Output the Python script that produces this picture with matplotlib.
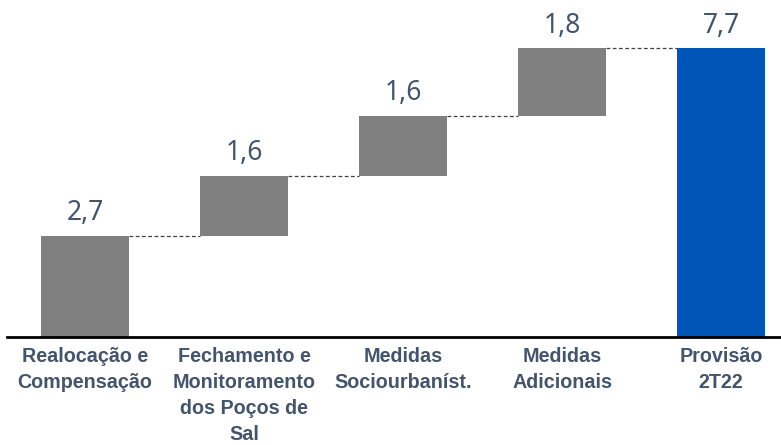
import matplotlib
matplotlib.use('Agg')
import matplotlib.pyplot as plt

plt.rcParams['font.family'] = ['Noto Sans', 'DejaVu Sans']

# dados (R$ bilhões)
categorias = ['Realocação e\nCompensação', 'Fechamento e\nMonitoramento\ndos Poços de\nSal',
              'Medidas\nSociourbaníst.', 'Medidas\nAdicionais', 'Provisão\n2T22']
valores = [2.7, 1.6, 1.6, 1.8, 7.7]
rotulos = ['2,7', '1,6', '1,6', '1,8', '7,7']

cinza = '#808080'
azul = '#0056B8'
texto = '#44546A'

fig = plt.figure(figsize=(7.81, 4.45), dpi=100)
ax = fig.add_axes([7 / 781, 1 - 337 / 445, 1 - 7 / 781, 337 / 445])

x = list(range(len(valores)))
largura = 0.553
bases = []
acum = 0
for v in valores[:-1]:
    bases.append(acum)
    acum += v
bases.append(0)
cores = [cinza] * (len(valores) - 1) + [azul]

ax.bar(x, valores, bottom=bases, width=largura, color=cores)

# rótulos dos valores
for xi, b, v, r in zip(x, bases, valores, rotulos):
    ax.text(xi, b + v + 0.22, r, ha='center', va='bottom', fontsize=19, color=texto)

# conectores tracejados
for i in range(len(valores) - 1):
    topo = bases[i] + valores[i]
    ax.plot([x[i] + largura / 2, x[i + 1] - largura / 2], [topo, topo],
            linestyle=(0, (3, 2)), color='#404040', linewidth=0.9)

ax.set_xlim(-0.49, 4.377)
ax.set_ylim(0, 337 / 37.53)
for s in ['top', 'right', 'left']:
    ax.spines[s].set_visible(False)
ax.spines['bottom'].set_linewidth(2)
ax.spines['bottom'].set_color('black')
ax.set_yticks([])
ax.set_xticks(x)
ax.set_xticklabels(categorias, fontsize=14.2, fontweight='bold', color=texto,
                   linespacing=1.48, family=['Liberation Sans', 'DejaVu Sans'])
ax.tick_params(axis='x', length=0, pad=7)

fig.savefig('out.png', dpi=100)
